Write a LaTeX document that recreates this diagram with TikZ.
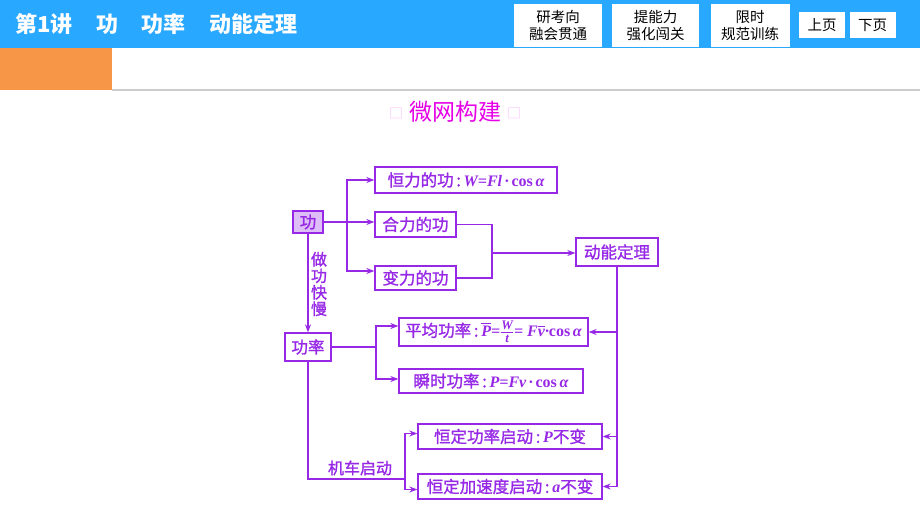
\documentclass[tikz,border=0pt]{standalone}
\usepackage{amsmath}
\usepackage{fontspec}
\newfontfamily\cjk{Noto Sans CJK SC}
\newfontfamily\cjkb[FakeBold=1.3]{Noto Sans CJK SC}
\newfontfamily\tms{Liberation Serif}
\usetikzlibrary{arrows.meta}
\definecolor{hdrblue}{RGB}{41,168,255}
\definecolor{hdrorange}{RGB}{247,150,70}
\definecolor{diag}{RGB}{150,40,230}
\definecolor{titlemag}{RGB}{230,0,230}
\definecolor{gongfill}{RGB}{222,190,246}
% formula letters: Times-like bold italic
\newcommand{\fml}[1]{{\tms\bfseries\itshape\fontsize{16}{18}\selectfont #1}}
\newcommand{\fsm}[1]{{\tms\bfseries\itshape\fontsize{13}{13}\selectfont #1}}
\newcommand{\cosa}{{\upshape cos}\,α}

\tikzset{
  box/.style = {draw = diag, line width = 1.3pt, text = diag, inner sep = 0pt,
    font = \cjkb\fontsize{16.5}{18}\selectfont},
  btn/.style = {fill = white, align = center, inner sep = 0pt,
    font = \cjk\fontsize{14.5}{17}\selectfont},
  link/.style = {diag, line width = 1.2pt, -{Stealth[length = 8pt, width = 6pt]}},
  wire/.style = {diag, line width = 1.2pt}
}

\begin{document}
\begin{tikzpicture}[x = 1pt, y = -1pt]
 \useasboundingbox (0, 0) rectangle (920, 518);
 % header
 \fill[hdrblue] (0, 0) rectangle (920, 48);
 \fill[hdrorange] (0, 48) rectangle (112, 90);
 \draw[black!20, line width = 1.2pt] (112, 90) -- (920, 90);
 \node[anchor = west, text = white, font = \cjk\bfseries\fontsize{22}{24}\selectfont] (head) at (12, 24)
   {第1讲\hspace{1.05em}功\hspace{1.05em}功率\hspace{1.1em}动能定理};
 \node[btn, minimum width = 88pt, minimum height = 43pt] (btnA) at (558, 25.5) {研考向\\融会贯通};
 \node[btn, minimum width = 87pt, minimum height = 43pt] (btnB) at (655.5, 25.5) {提能力\\强化闯关};
 \node[btn, minimum width = 79pt, minimum height = 43pt] (btnC) at (750, 25.5) {限时\\规范训练};
 \node[btn, minimum width = 46pt, minimum height = 26pt] (btnUp) at (822, 25) {上页};
 \node[btn, minimum width = 46pt, minimum height = 26pt] (btnDown) at (872.5, 25) {下页};
 % title
 \node[text = titlemag, font = \cjk\fontsize{23}{24}\selectfont] (title) at (455, 112) {微网构建};
 \node[text = titlemag!25, font = \cjk\fontsize{14}{16}\selectfont] (ltag) at (396, 113) {□};
 \node[text = titlemag!25, font = \cjk\fontsize{14}{16}\selectfont] (rtag) at (514, 113) {□};
 % boxes
 \node[box, fill = gongfill, minimum width = 30pt, minimum height = 22pt] (gong) at (308, 222) {功};
 \node[box, minimum width = 182pt, minimum height = 26pt] (hengli) at (466, 180) {恒力的功\,:\,\fml{W=Fl\,·\,\cosa}};
 \node[box, minimum width = 81pt, minimum height = 25pt] (heli) at (415.5, 224.5) {合力的功};
 \node[box, minimum width = 81pt, minimum height = 24pt] (bianli) at (415.5, 278) {变力的功};
 \node[box, minimum width = 82pt, minimum height = 28pt] (dongneng) at (617, 252) {动能定理};
 \node[box, minimum width = 46pt, minimum height = 28pt] (gonglv) at (308, 347) {功率};
 \node[box, minimum width = 189pt, minimum height = 28pt] (pingjun) at (493.5, 332)
   {平均功率\,:\,$\overline{\hbox{\fml{P}}}$\fml{=}$\frac{\hbox{\fsm{W}}}{\hbox{\fsm{t}}}$\fml{= F}$\overline{\hbox{\fml{v}}}$\fml{·\cosa}};
 \node[box, minimum width = 184pt, minimum height = 24pt] (shunshi) at (491, 381) {瞬时功率\,:\,\fml{P=Fv\,·\,\cosa}};
 \node[box, minimum width = 184pt, minimum height = 25pt] (hengP) at (510, 436.5) {恒定功率启动\,:\,\fml{P}不变};
 \node[box, minimum width = 184pt, minimum height = 25pt] (hengA) at (510, 486.5) {恒定加速度启动\,:\,\fml{a}不变};
 % labels
 \node[text = diag, align = center, inner sep = 0pt, font = \cjkb\fontsize{16}{16.5}\selectfont] (kuaiman) at (319, 284) {做\\功\\快\\慢};
 \node[text = diag, inner sep = 0pt, font = \cjkb\fontsize{16}{16}\selectfont] (jiche) at (360, 468) {机车启动};
 % connectors
 \coordinate (fork1) at (347, 222);
 \coordinate (join1) at (492, 253);
 \coordinate (fork2) at (376, 347);
 \coordinate (fork3) at (405, 479);
 \draw[link] (gong.east) -- (gong.east -| heli.west);
 \draw[link] (fork1) |- (hengli.west);
 \draw[link] (fork1) |- ([yshift = 7pt]bianli.west);
 \draw[wire] (heli.east) -| (join1) |- (bianli.east);
 \draw[link] (join1) -- (join1 -| dongneng.west);
 \draw[link] (gong.south) -- (gonglv.north);
 \draw[wire] (gonglv.east) -- (fork2);
 \draw[link] (fork2) |- ([yshift = 6pt]pingjun.west);
 \draw[link] (fork2) |- ([yshift = 2pt]shunshi.west);
 \draw[wire] (gonglv.south) |- (fork3);
 \draw[link] (fork3) |- ([yshift = 3pt]hengP.west);
 \draw[link] (fork3) |- ([yshift = -3pt]hengA.west);
 \draw[link] (dongneng.south) |- (hengA.east);
 \draw[link] (dongneng.south |- pingjun.east) -- (pingjun.east);
 \draw[link] (dongneng.south |- hengP.east) -- (hengP.east);
\end{tikzpicture}
\end{document}
